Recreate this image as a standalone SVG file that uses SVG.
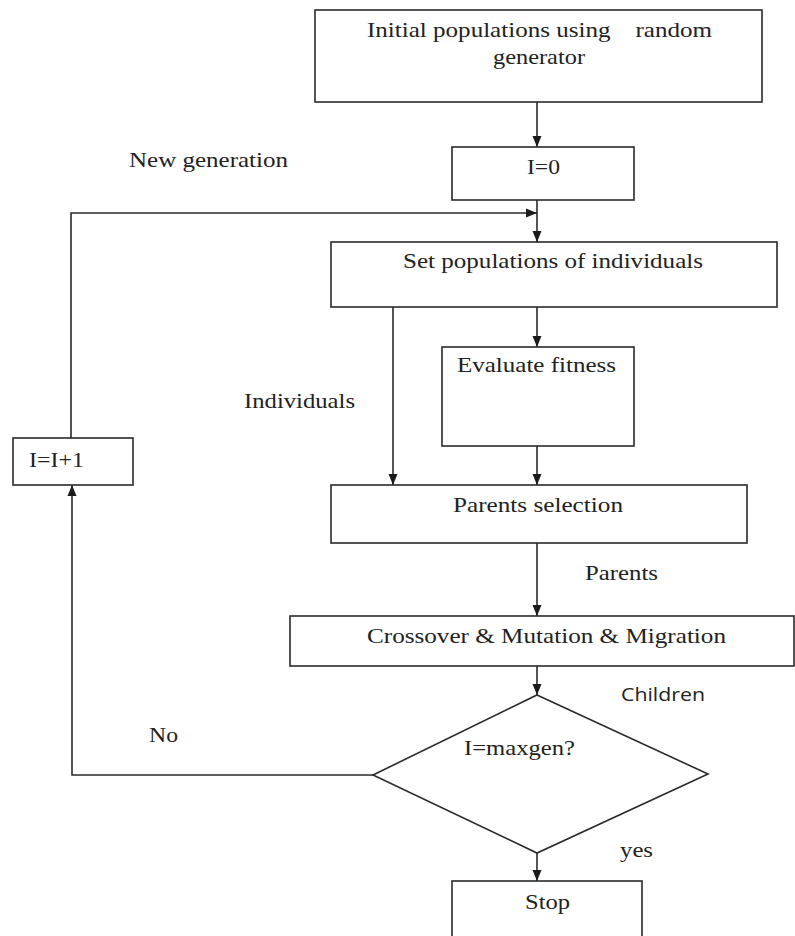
<svg xmlns="http://www.w3.org/2000/svg" width="795" height="936" viewBox="0 0 795 936">
<defs>
<marker id="arr" markerUnits="userSpaceOnUse" markerWidth="12" markerHeight="12" viewBox="0 0 12 12" refX="11" refY="6" orient="auto">
<path d="M0,1.5 L11,6 L0,10.5 Z" fill="#1a1a1a"/>
</marker>
<style>
.box{fill:#fff;stroke:#2a2a2a;stroke-width:1.6}
.ln{fill:none;stroke:#2a2a2a;stroke-width:1.6}
.ar{marker-end:url(#arr)}
.t{font-family:"Liberation Serif","Times New Roman",serif;font-size:22px;fill:#222}
.s{font-family:"Open Sans","Liberation Sans",sans-serif;font-size:18px;fill:#222}
</style>
</defs>
<rect width="795" height="936" fill="#fff"/>
<g id="connectors">
<path class="ln ar" d="M537,102 V147"/>
<path class="ln ar" d="M537,200 V242"/>
<path class="ln ar" d="M71,438 V213 H537"/>
<path class="ln ar" d="M393,307 V485"/>
<path class="ln ar" d="M537,307 V347"/>
<path class="ln ar" d="M537,446 V485"/>
<path class="ln ar" d="M537,543 V616"/>
<path class="ln ar" d="M537,666 V695"/>
<path class="ln ar" d="M537,853 V881"/>
<path class="ln ar" d="M373,775 H72 V485"/>
</g>
<g id="labels">
<text class="t" x="129" y="167" textLength="159" lengthAdjust="spacingAndGlyphs">New generation</text>
<text class="t" x="244" y="408" textLength="111" lengthAdjust="spacingAndGlyphs">Individuals</text>
<text class="t" x="585" y="580" textLength="73" lengthAdjust="spacingAndGlyphs">Parents</text>
<text class="s" x="621" y="701" textLength="84" lengthAdjust="spacingAndGlyphs">Children</text>
<text class="t" x="149" y="742" textLength="29" lengthAdjust="spacingAndGlyphs">No</text>
<text class="t" x="620" y="857" textLength="33" lengthAdjust="spacingAndGlyphs">yes</text>
</g>
<g id="node-init">
<rect class="box" x="315" y="10" width="447" height="92"/>
<text class="t" x="367" y="37" textLength="345" lengthAdjust="spacingAndGlyphs" xml:space="preserve">Initial populations using    random</text>
<text class="t" x="493" y="64" textLength="92" lengthAdjust="spacingAndGlyphs">generator</text>
</g>
<g id="node-i0">
<rect class="box" x="452" y="147" width="182" height="53"/>
<text class="t" x="527" y="174" textLength="33" lengthAdjust="spacingAndGlyphs">I=0</text>
</g>
<g id="node-set">
<rect class="box" x="331" y="242" width="446" height="65"/>
<text class="t" x="403" y="268" textLength="300" lengthAdjust="spacingAndGlyphs">Set populations of individuals</text>
</g>
<g id="node-eval">
<rect class="box" x="442" y="347" width="192" height="99"/>
<text class="t" x="457" y="372" textLength="159" lengthAdjust="spacingAndGlyphs">Evaluate fitness</text>
</g>
<g id="node-inc">
<rect class="box" x="13" y="438" width="120" height="47"/>
<text class="t" x="29" y="467" textLength="55" lengthAdjust="spacingAndGlyphs">I=I+1</text>
</g>
<g id="node-parents">
<rect class="box" x="331" y="485" width="416" height="58"/>
<text class="t" x="453" y="512" textLength="170" lengthAdjust="spacingAndGlyphs">Parents selection</text>
</g>
<g id="node-cross">
<rect class="box" x="290" y="616" width="504" height="50"/>
<text class="t" x="367" y="643" textLength="359" lengthAdjust="spacingAndGlyphs">Crossover &amp; Mutation &amp; Migration</text>
</g>
<g id="node-decision">
<polygon class="box" points="537,695 708,774 537,853 373,775"/>
<text class="t" x="464" y="755" textLength="111" lengthAdjust="spacingAndGlyphs">I=maxgen?</text>
</g>
<g id="node-stop">
<rect class="box" x="452" y="881" width="190" height="70"/>
<text class="t" x="525" y="909" textLength="45" lengthAdjust="spacingAndGlyphs">Stop</text>
</g>
</svg>
